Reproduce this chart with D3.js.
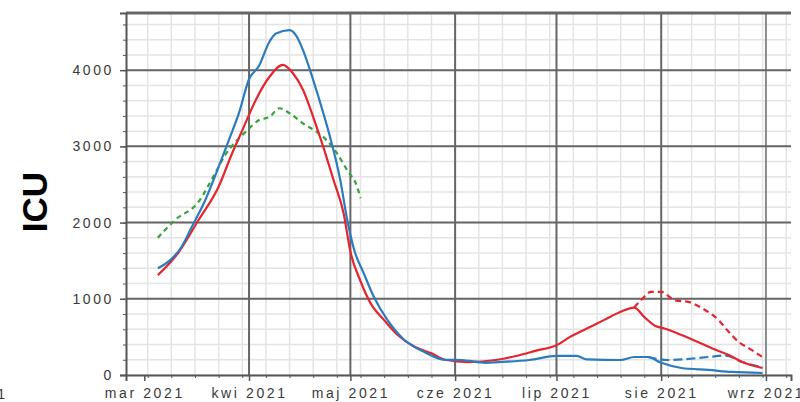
<!DOCTYPE html>
<html>
<head>
<meta charset="utf-8">
<script src="https://cdn.jsdelivr.net/npm/d3@7"></script>
<style>
  body { margin: 0; background: #fff; }
  svg { display: block; }
</style>
</head>
<body>
<div id="chart"></div>
<script>
// ---------- data ----------
const monthLabels = ["mar 2021", "kwi 2021", "maj 2021", "cze 2021", "lip 2021", "sie 2021", "wrz 2021"];
const monthDates = ["2021-03-01", "2021-04-01", "2021-05-01", "2021-06-01", "2021-07-01", "2021-08-01", "2021-09-01"];
const yTicks = [0, 1000, 2000, 3000, 4000];

const blueSolid = [
  ["2021-03-05", 1400], ["2021-03-09", 1520], ["2021-03-12", 1680], ["2021-03-15", 1940],
  ["2021-03-19", 2290], ["2021-03-23", 2730], ["2021-03-26", 3080], ["2021-03-29", 3435],
  ["2021-04-01", 3880], ["2021-04-04", 4060], ["2021-04-07", 4370], ["2021-04-09", 4480],
  ["2021-04-13", 4525], ["2021-04-15", 4450], ["2021-04-17", 4260], ["2021-04-20", 3870],
  ["2021-04-23", 3435], ["2021-04-25", 3120], ["2021-04-28", 2560], ["2021-04-30", 2050],
  ["2021-05-02", 1660], ["2021-05-05", 1330], ["2021-05-08", 1020], ["2021-05-12", 720],
  ["2021-05-17", 460], ["2021-05-23", 300], ["2021-05-29", 200], ["2021-06-03", 197],
  ["2021-06-10", 160], ["2021-06-14", 170], ["2021-06-23", 197], ["2021-07-01", 250],
  ["2021-07-07", 250], ["2021-07-10", 205], ["2021-07-20", 197], ["2021-07-24", 236],
  ["2021-07-28", 236], ["2021-08-01", 160], ["2021-08-07", 92], ["2021-08-15", 66],
  ["2021-08-22", 40], ["2021-08-31", 26]
];

const redSolid = [
  ["2021-03-05", 1310], ["2021-03-11", 1600], ["2021-03-17", 2030], ["2021-03-23", 2470],
  ["2021-03-27", 2910], ["2021-03-30", 3210], ["2021-04-03", 3610], ["2021-04-07", 3910],
  ["2021-04-11", 4070], ["2021-04-14", 3960], ["2021-04-17", 3740], ["2021-04-20", 3385],
  ["2021-04-23", 2990], ["2021-04-26", 2560], ["2021-04-29", 2120], ["2021-05-01", 1620],
  ["2021-05-04", 1230], ["2021-05-07", 940], ["2021-05-11", 720], ["2021-05-15", 525],
  ["2021-05-20", 370], ["2021-05-25", 285], ["2021-05-29", 200], ["2021-06-05", 170],
  ["2021-06-13", 197], ["2021-06-19", 250], ["2021-06-25", 320], ["2021-07-01", 390],
  ["2021-07-05", 500], ["2021-07-10", 610], ["2021-07-15", 720], ["2021-07-20", 830],
  ["2021-07-24", 885], ["2021-07-27", 760], ["2021-07-30", 650], ["2021-08-02", 610],
  ["2021-08-07", 525], ["2021-08-12", 430], ["2021-08-16", 350], ["2021-08-21", 262],
  ["2021-08-25", 170], ["2021-08-31", 92]
];

const redDashed = [
  ["2021-07-24", 885], ["2021-07-26", 980], ["2021-07-29", 1090], ["2021-08-01", 1090],
  ["2021-08-05", 980], ["2021-08-09", 960], ["2021-08-13", 880], ["2021-08-18", 720],
  ["2021-08-21", 565], ["2021-08-24", 430], ["2021-08-27", 350], ["2021-08-31", 236]
];

const blueDashed = [
  ["2021-07-28", 236], ["2021-08-03", 197], ["2021-08-15", 236], ["2021-08-20", 255],
  ["2021-08-25", 170], ["2021-08-31", 100]
];

const greenDashed = [
  ["2021-03-05", 1800], ["2021-03-10", 2030], ["2021-03-17", 2270], ["2021-03-22", 2650],
  ["2021-03-25", 2890], ["2021-03-31", 3190], ["2021-04-04", 3345], ["2021-04-07", 3385],
  ["2021-04-10", 3500], ["2021-04-13", 3435], ["2021-04-17", 3300], ["2021-04-21", 3190],
  ["2021-04-24", 3080], ["2021-04-27", 2910], ["2021-04-30", 2690], ["2021-05-03", 2470],
  ["2021-05-04", 2320]
];

// ---------- layout ----------
const W = 800, H = 402;
const plot = { left: 126, right: 791, top: 13, bottom: 375 };
const parse = d3.utcParse("%Y-%m-%d");

const svg = d3.select("#chart").append("svg")
  .attr("width", W).attr("height", H)
  .style("font-family", "'Liberation Sans', Arial, sans-serif");

const x = d3.scaleUtc()
  .domain([new Date(Date.UTC(2021, 1, 23, 14)), new Date(Date.UTC(2021, 8, 8, 10))])
  .range([plot.left, plot.right]);

const y = d3.scaleLinear()
  .domain([0, 4750])
  .range([plot.bottom, plot.top]);

// ---------- grid ----------
const weekly = d3.utcTuesday.range(x.domain()[0], x.domain()[1]);
const minorY = d3.range(0, 4751, 200);
const majorMonths = monthDates.slice(1).map(parse);

const grid = svg.append("g");

grid.selectAll(".vminor").data(weekly).join("line")
  .attr("x1", d => x(d)).attr("x2", d => x(d))
  .attr("y1", plot.top).attr("y2", plot.bottom)
  .attr("stroke", "#e4e4e4").attr("stroke-width", 1.5);

grid.selectAll(".hminor").data(minorY).join("line")
  .attr("x1", plot.left).attr("x2", plot.right)
  .attr("y1", d => y(d)).attr("y2", d => y(d))
  .attr("stroke", "#e4e4e4").attr("stroke-width", 1.5);

grid.selectAll(".vmajor").data(majorMonths).join("line")
  .attr("x1", d => x(d)).attr("x2", d => x(d))
  .attr("y1", plot.top).attr("y2", plot.bottom)
  .attr("stroke", (d, i) => i === majorMonths.length - 1 ? "#8a8a8a" : "#666")
  .attr("stroke-width", 2);

grid.selectAll(".hmajor").data(yTicks.slice(1)).join("line")
  .attr("x1", plot.left).attr("x2", plot.right)
  .attr("y1", d => y(d)).attr("y2", d => y(d))
  .attr("stroke", "#666").attr("stroke-width", 2);

// top border
svg.append("line")
  .attr("x1", plot.left).attr("x2", plot.right)
  .attr("y1", plot.top).attr("y2", plot.top)
  .attr("stroke", "#666").attr("stroke-width", 3);

// ---------- axes ----------
const labelStyle = g => g.selectAll("text")
  .attr("fill", "#3a3a3a")
  .style("font-size", "14px")
  .style("letter-spacing", "2.6px");

svg.append("g")
  .attr("transform", `translate(${plot.left},0)`)
  .call(d3.axisLeft(y).tickValues(minorY).tickSize(3).tickFormat(""))
  .call(g => g.select(".domain").remove())
  .call(g => g.selectAll(".tick line").attr("stroke", "#555"));

svg.append("g")
  .attr("transform", `translate(${plot.left},0)`)
  .call(d3.axisLeft(y).tickValues(yTicks).tickSize(6).tickPadding(6).tickFormat(d3.format("d")))
  .call(g => g.select(".domain").attr("stroke", "#555").attr("stroke-width", 2))
  .call(g => g.selectAll(".tick line").attr("stroke", "#555").attr("stroke-width", 1.5))
  .call(labelStyle);

svg.append("g")
  .attr("transform", `translate(0,${plot.bottom})`)
  .call(d3.axisBottom(x).tickValues(weekly).tickSize(3).tickFormat(""))
  .call(g => g.select(".domain").remove())
  .call(g => g.selectAll(".tick line").attr("stroke", "#555"));

svg.append("g")
  .attr("transform", `translate(0,${plot.bottom})`)
  .call(d3.axisBottom(x).tickValues(monthDates.map(parse)).tickSize(6).tickPadding(7)
    .tickFormat((d, i) => monthLabels[i]))
  .call(g => g.select(".domain").attr("stroke", "#555").attr("stroke-width", 2))
  .call(g => g.selectAll(".tick line").attr("stroke", "#555").attr("stroke-width", 1.5))
  .call(labelStyle);

// ---------- lines ----------
const line = d3.line()
  .x(d => x(parse(d[0])))
  .y(d => y(d[1]))
  .curve(d3.curveMonotoneX);

const series = [
  { data: greenDashed, color: "#35a33a", dash: "5 4" },
  { data: redDashed, color: "#e3262d", dash: "6 4" },
  { data: blueDashed, color: "#2b7bbf", dash: "9 4" },
  { data: redSolid, color: "#e3262d", dash: null },
  { data: blueSolid, color: "#2b7bbf", dash: null }
];

svg.append("g").selectAll("path").data(series).join("path")
  .attr("d", d => line(d.data))
  .attr("fill", "none")
  .attr("stroke", d => d.color)
  .attr("stroke-width", 2.2)
  .attr("stroke-linejoin", "round")
  .attr("stroke-dasharray", d => d.dash);

// ---------- y title ----------
svg.append("text")
  .attr("transform", "translate(47,202) rotate(-90)")
  .attr("text-anchor", "middle")
  .attr("font-weight", "bold")
  .attr("font-size", "35px")
  .attr("fill", "#000")
  .text("ICU");

// cut-off glyph at the lower left edge
svg.append("text")
  .attr("x", 5).attr("y", 399)
  .attr("text-anchor", "end")
  .attr("fill", "#3a3a3a")
  .style("font-size", "14px")
  .text("1");
</script>
</body>
</html>
